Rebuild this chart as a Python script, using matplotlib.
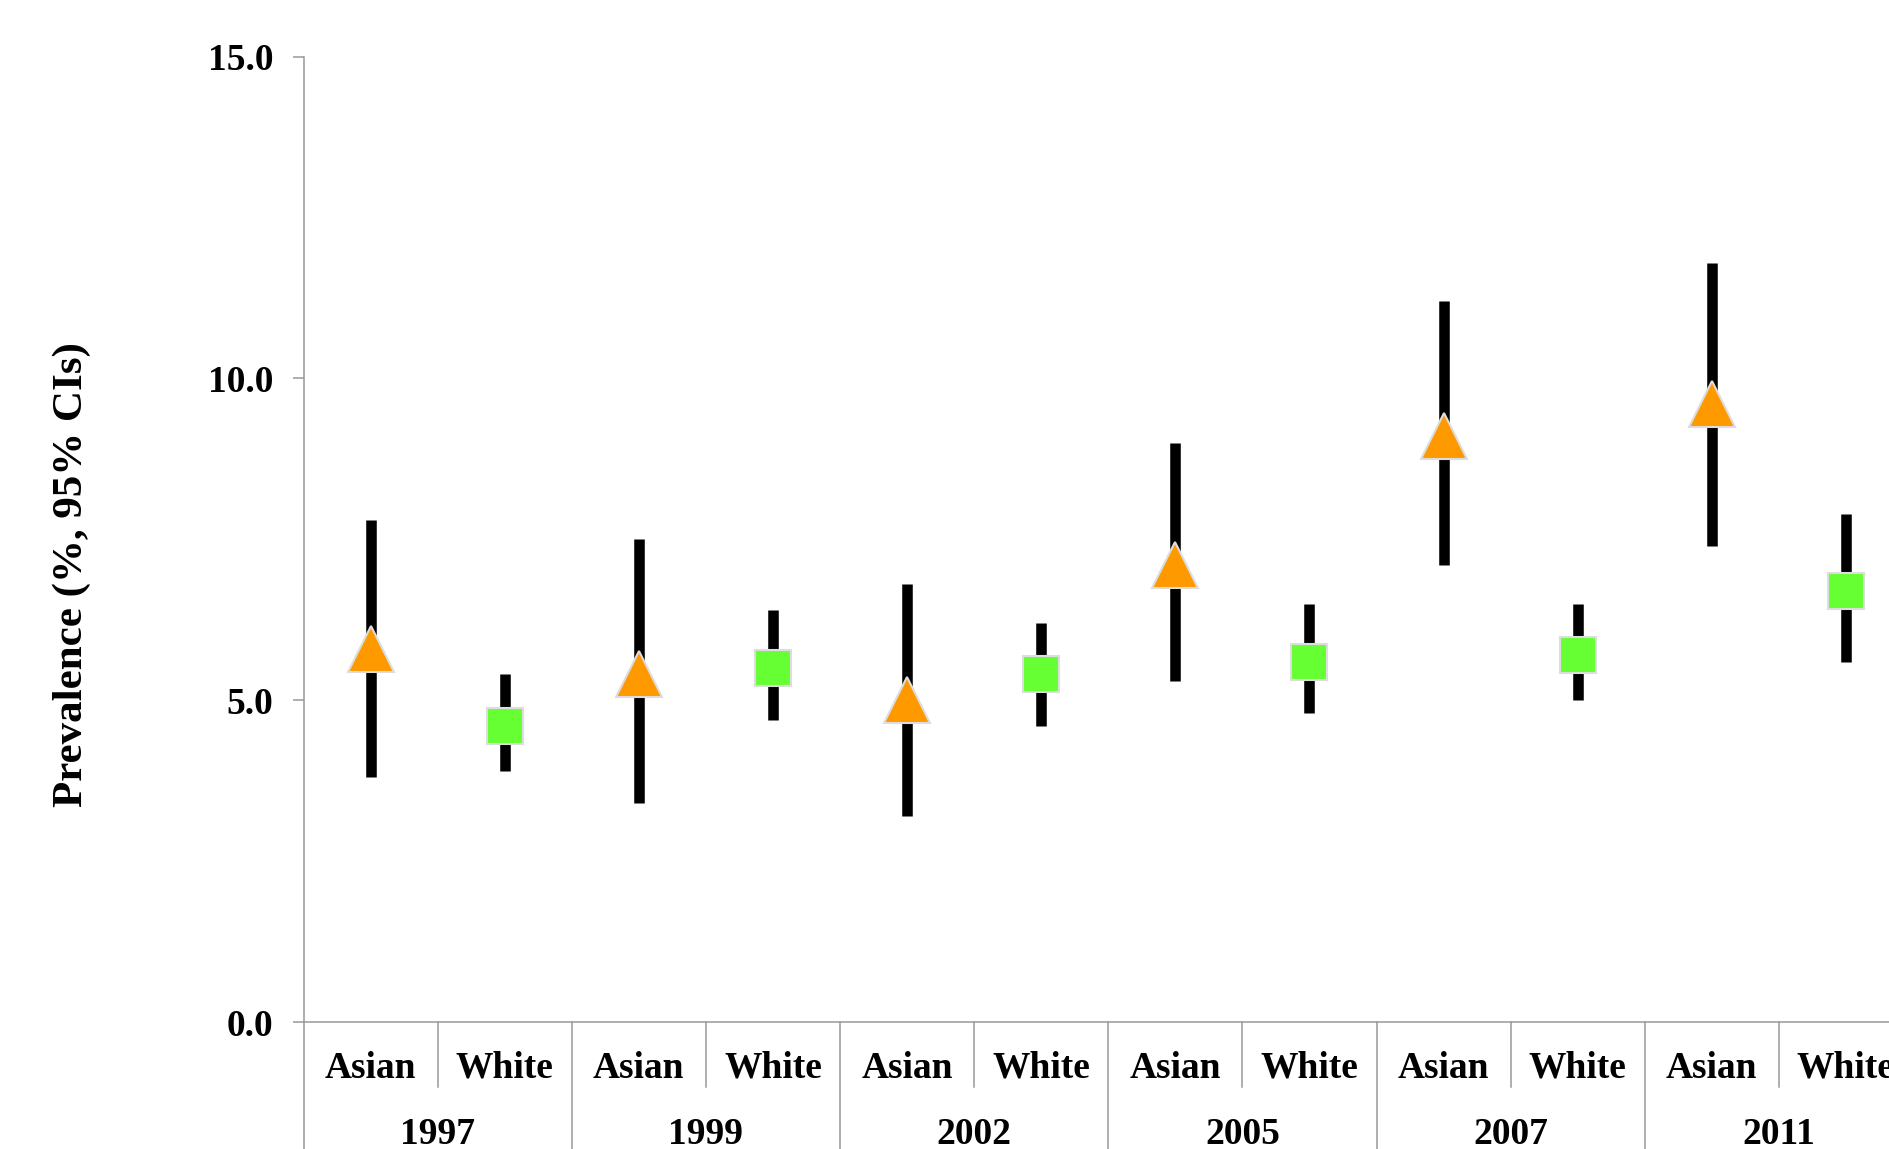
import matplotlib
matplotlib.use("Agg")
import matplotlib.pyplot as plt
import matplotlib.transforms as mtransforms
import numpy as np

plt.rcParams['font.family'] = ['Liberation Serif', 'DejaVu Serif']
plt.rcParams['font.weight'] = 'bold'

years = ['1997', '1999', '2002', '2005', '2007', '2011']
groups = ['Asian', 'White']

# point estimates and 95% CIs
asian = [5.8, 5.4, 5.0, 7.1, 9.1, 9.6]
asian_lo = [3.8, 3.4, 3.2, 5.3, 7.1, 7.4]
asian_hi = [7.8, 7.5, 6.8, 9.0, 11.2, 11.8]
white = [4.6, 5.5, 5.4, 5.6, 5.7, 6.7]
white_lo = [3.9, 4.7, 4.6, 4.8, 5.0, 5.6]
white_hi = [5.4, 6.4, 6.2, 6.5, 6.5, 7.9]

fig = plt.figure(figsize=(18.89, 11.49), dpi=100)
# axes runs past the right edge, like the cropped original
ax = fig.add_axes([0.1607, 0.1105, 0.852, 0.8403])

x_asian = np.arange(len(years)) * 2
x_white = x_asian + 1

# error bars first, markers on top
for xs, v, lo, hi in [(x_asian, asian, asian_lo, asian_hi),
                      (x_white, white, white_lo, white_hi)]:
    v = np.array(v)
    yerr = [v - np.array(lo), np.array(hi) - v]
    ax.errorbar(xs, v, yerr=yerr, fmt='none', ecolor='black',
                elinewidth=7.6, capsize=0, zorder=2)

ax.plot(x_asian, asian, linestyle='none', marker='^', markersize=33,
        markerfacecolor='#FF9900', markeredgecolor='#dddddd',
        markeredgewidth=1.5, zorder=3)
ax.plot(x_white, white, linestyle='none', marker='s', markersize=26,
        markerfacecolor='#66FF33', markeredgecolor='#dddddd',
        markeredgewidth=1.5, zorder=3)

ax.set_xlim(-0.5, 2 * len(years) - 0.5)
ax.set_ylim(0, 15)
ax.set_yticks([0, 5, 10, 15])
ax.set_yticklabels(['%.1f' % t for t in [0, 5, 10, 15]], fontsize=27,
                   fontweight='bold')
ax.tick_params(axis='y', length=8, width=1.1, color='#999999', pad=14)
ax.set_xticks([])

for side in ['top', 'right']:
    ax.spines[side].set_visible(False)
for side in ['left', 'bottom']:
    ax.spines[side].set_color('#999999')
    ax.spines[side].set_linewidth(1.1)

fig.text(0.038, 0.5, 'Prevalence (%, 95% CIs)', rotation=90, ha='center',
         va='center', fontsize=31, fontweight='bold')

# two-level category axis drawn by hand
trans = mtransforms.blended_transform_factory(ax.transData, ax.transAxes)
for i, yr in enumerate(years):
    for j, g in enumerate(groups):
        ax.text(2 * i + j, -0.048, g, transform=trans, ha='center',
                va='center', fontsize=27, fontweight='bold')
    ax.text(2 * i + 0.5, -0.116, yr, transform=trans, ha='center',
            va='center', fontsize=27, fontweight='bold')
    # short divider between Asian and White
    ax.plot([2 * i + 0.5, 2 * i + 0.5], [0, -0.0673], transform=trans,
            color='#999999', lw=1.1, clip_on=False)
    # long divider between years
    ax.plot([2 * i - 0.5, 2 * i - 0.5], [0, -0.2], transform=trans,
            color='#999999', lw=1.1, clip_on=False)
ax.plot([2 * len(years) - 0.5] * 2, [0, -0.2], transform=trans,
        color='#999999', lw=1.1, clip_on=False)

fig.savefig('out.png', dpi=100)
